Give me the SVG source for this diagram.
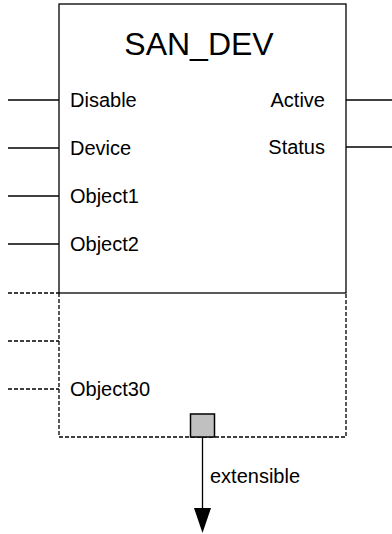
<svg xmlns="http://www.w3.org/2000/svg" width="392" height="534" viewBox="0 0 392 534">
<defs>
<style>
.ln{stroke:#000;stroke-width:1.3;fill:none}
.dl{stroke:#000;stroke-width:1.3;fill:none;stroke-dasharray:4,2}
.t{font-family:"Liberation Sans",Arial,sans-serif;font-size:20px;fill:#000}
.title{font-size:32px}
</style>
</defs>
<rect width="392" height="534" fill="#fff"/>
<g id="block">
<rect x="59" y="4" width="287" height="289" class="ln"/>
<text x="199" y="55" class="t title" text-anchor="middle">SAN_DEV</text>
<text x="70" y="107" class="t">Disable</text>
<text x="70" y="155" class="t">Device</text>
<text x="70" y="203" class="t">Object1</text>
<text x="70" y="251" class="t">Object2</text>
<text x="325" y="107" class="t" text-anchor="end">Active</text>
<text x="325" y="154" class="t" text-anchor="end">Status</text>
</g>
<g id="extension">
<path d="M59 293 V437 H346 V293" class="dl"/>
<text x="70" y="396" class="t">Object30</text>
<rect x="190.5" y="414" width="24" height="23" fill="#c0c0c0" stroke="#000" stroke-width="1.5"/>
</g>
<g id="connectors">
<line x1="8" y1="100" x2="59" y2="100" class="ln"/>
<line x1="8" y1="148" x2="59" y2="148" class="ln"/>
<line x1="8" y1="196" x2="59" y2="196" class="ln"/>
<line x1="8" y1="244" x2="59" y2="244" class="ln"/>
<line x1="346" y1="100" x2="392" y2="100" class="ln"/>
<line x1="346" y1="147" x2="392" y2="147" class="ln"/>
<line x1="8" y1="293" x2="59" y2="293" class="dl"/>
<line x1="8" y1="341" x2="59" y2="341" class="dl"/>
<line x1="8" y1="389" x2="59" y2="389" class="dl"/>
<line x1="202.5" y1="437" x2="202.5" y2="510" class="ln"/>
<polygon points="194,508 211,508 202.5,533" fill="#000"/>
<text x="210" y="483" class="t">extensible</text>
</g>
</svg>
